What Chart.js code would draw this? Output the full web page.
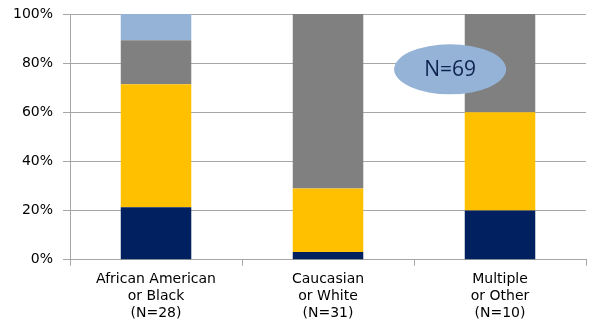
<!DOCTYPE html>
<html>
<head>
<meta charset="utf-8">
<script src="https://cdn.jsdelivr.net/npm/chart.js@4/dist/chart.umd.min.js"></script>
<style>
  html, body { margin: 0; padding: 0; background: #fff; }
  #wrap { width: 600px; height: 333px; }
</style>
</head>
<body>
<div id="wrap"><canvas id="chart"></canvas></div>
<script>
const categories = [
    ['African American', 'or Black', '(N=28)'],
    ['Caucasian', 'or White', '(N=31)'],
    ['Multiple', 'or Other', '(N=10)'],
];
// percent of each group
const navySeries = [21.4, 3.2, 20];
const goldSeries = [50, 25.8, 40];
const graySeries = [17.9, 71, 40];
const blueSeries = [10.7, 0, 0];
const yTicks = [0, 20, 40, 60, 80, 100];
const totalLabel = 'N=69';

const axisColor = '#A6A6A6';
const xFont = { family: '"DejaVu Sans", Verdana, sans-serif', size: 14, lineHeight: 1.22 };
const yFont = { family: '"DejaVu Sans", Verdana, sans-serif', size: 14, lineHeight: 1 };
const ctx = document.getElementById('chart').getContext('2d');

// draws the N=69 ellipse in chart coordinates
const ellipsePlugin = {
    id: 'ellipse',
    afterDatasetsDraw(chart) {
        const { ctx, scales } = chart;
        const cx = scales.x.getPixelForValue(1.71);
        const cy = scales.y.getPixelForValue(77.5);
        ctx.save();
        ctx.beginPath();
        ctx.ellipse(cx, cy, 56, 25, 0, 0, Math.PI * 2);
        ctx.fillStyle = '#95B3D7';
        ctx.fill();
        ctx.fillStyle = '#0F2350';
        ctx.font = '21px "Open Sans", "Liberation Sans", sans-serif';
        ctx.textAlign = 'center';
        ctx.textBaseline = 'middle';
        ctx.fillText(totalLabel, cx, cy + 1);
        ctx.restore();
    },
};

const chart = new Chart(ctx, {
    type: 'bar',
    data: {
        labels: categories,
        datasets: [
            { label: 'a', data: navySeries, backgroundColor: '#002060' },
            { label: 'b', data: goldSeries, backgroundColor: '#FFC000' },
            { label: 'c', data: graySeries, backgroundColor: '#808080' },
            { label: 'd', data: blueSeries, backgroundColor: '#95B3D7' },
        ],
    },
    options: {
        responsive: true,
        maintainAspectRatio: false,
        animation: false,
        layout: { padding: { top: 0, right: 14, left: 3, bottom: 6 } },
        datasets: { bar: { categoryPercentage: 0.41, barPercentage: 1 } },
        plugins: { legend: { display: false }, tooltip: { enabled: false } },
        scales: {
            x: {
                stacked: true,
                grid: { offset: true, drawOnChartArea: false, color: axisColor, tickLength: 6 },
                border: { color: axisColor },
                ticks: { color: '#000', font: xFont, padding: 5, maxRotation: 0 },
            },
            y: {
                stacked: true,
                min: 0,
                max: 100,
                afterBuildTicks(axis) {
                    axis.ticks = yTicks.map(v => ({ value: v }));
                },
                afterFit(axis) {
                    axis.paddingTop = 14;
                },
                grid: { color: axisColor, tickLength: 7 },
                border: { color: axisColor },
                ticks: { color: '#000', font: yFont, padding: 10, callback: v => v + '%' },
            },
        },
    },
    plugins: [ellipsePlugin],
});
</script>
</body>
</html>
